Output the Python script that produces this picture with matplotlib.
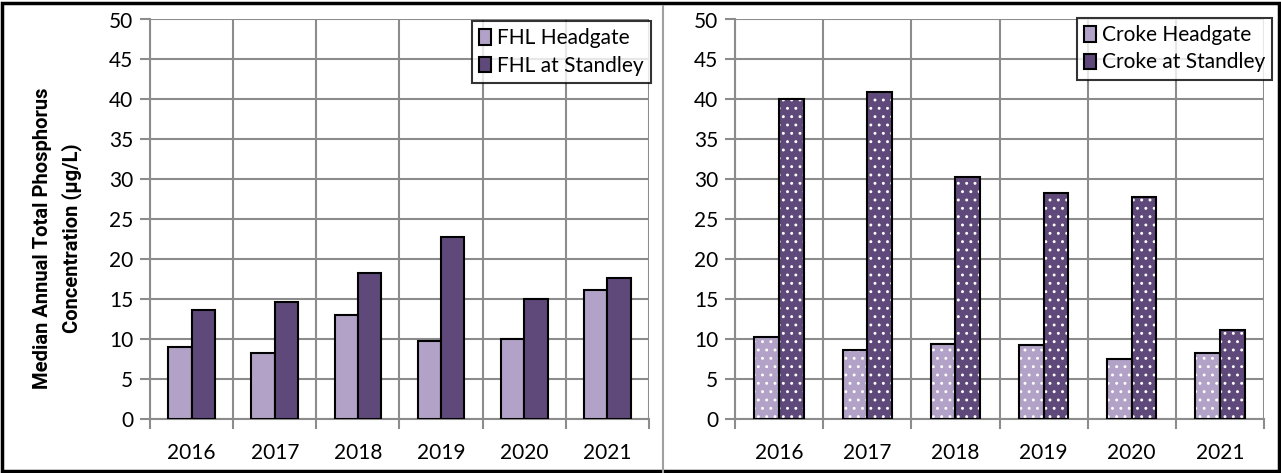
import numpy as np
import matplotlib.pyplot as plt
from matplotlib.patches import Rectangle
from matplotlib.lines import Line2D

years = ['2016', '2017', '2018', '2019', '2020', '2021']

fhl_headgate = [9.0, 8.3, 13.0, 9.8, 10.0, 16.1]
fhl_standley = [13.7, 14.6, 18.3, 22.8, 15.0, 17.6]

croke_headgate = [10.3, 8.6, 9.4, 9.2, 7.5, 8.3]
croke_standley = [40.1, 40.9, 30.3, 28.3, 27.8, 11.2]

light = '#b3a2c7'
dark = '#5f497a'
gridc = '#8c8c8c'

plt.rcParams['font.family'] = ['Lato', 'DejaVu Sans']
plt.rcParams['hatch.linewidth'] = 0.9

W, H = 1281, 473
fig = plt.figure(figsize=(W / 100, H / 100), dpi=100)


def box(x0, x1, y_top, y_bot):
    return [x0 / W, 1 - y_bot / H, (x1 - x0) / W, (y_bot - y_top) / H]


def setup(ax):
    x = np.arange(len(years))
    ax.set_xlim(-0.5, len(years) - 0.5)
    ax.set_ylim(0, 50)
    ax.set_yticks(range(0, 51, 5))
    ax.set_xticks(x)
    ax.set_xticklabels(years)
    ax.set_xticks(np.arange(-0.5, len(years)), minor=True)
    ax.tick_params(axis='x', which='major', length=0, pad=17, labelsize=15)
    ax.tick_params(axis='x', which='minor', length=7, width=1.5, color=gridc)
    ax.tick_params(axis='y', length=7, width=1.5, color=gridc, labelsize=15, pad=5)
    ax.grid(axis='y', which='major', color=gridc, lw=1.5)
    ax.grid(axis='x', which='minor', color=gridc, lw=1.5)
    ax.set_axisbelow(True)
    for s in ax.spines.values():
        s.set_visible(False)
    ax.spines['left'].set_visible(True)
    ax.spines['left'].set_color(gridc)
    ax.spines['left'].set_linewidth(1.5)
    ax.spines['bottom'].set_visible(True)
    ax.spines['bottom'].set_color(gridc)
    ax.spines['bottom'].set_linewidth(1.5)
    return x


def legend(ax, handles, labels, anchor):
    leg = ax.legend(handles, labels, loc='upper right', bbox_to_anchor=anchor,
                    fontsize=15, frameon=True, fancybox=False, edgecolor='black',
                    handlelength=0.55, handleheight=0.75, handletextpad=0.3,
                    borderpad=0.35, labelspacing=0.35, borderaxespad=0)
    leg.get_frame().set_linewidth(1.5)
    return leg


bw = 0.28

# left panel
ax1 = fig.add_axes(box(150, 649, 19.5, 419))
x = setup(ax1)
b1 = ax1.bar(x - bw / 2, fhl_headgate, bw, color=light, edgecolor='black', lw=1.5, zorder=3)
b2 = ax1.bar(x + bw / 2, fhl_standley, bw, color=dark, edgecolor='black', lw=1.5, zorder=3)
legend(ax1, [b1, b2], ['FHL Headgate', 'FHL at Standley'], (1.004, 0.996))

# right panel: dotted bars
ax2 = fig.add_axes(box(735, 1264, 19.5, 419))
x = setup(ax2)
for off, vals, col in [(-bw / 2, croke_headgate, light), (bw / 2, croke_standley, dark)]:
    ax2.bar(x + off, vals, bw, color=col, edgecolor='white', hatch='..', lw=0, zorder=3)
    ax2.bar(x + off, vals, bw, color='none', edgecolor='black', lw=1.5, zorder=4)
h1 = Rectangle((0, 0), 1, 1, facecolor=light, edgecolor='black', lw=1.5)
h2 = Rectangle((0, 0), 1, 1, facecolor=dark, edgecolor='black', lw=1.5)
legend(ax2, [h1, h2], ['Croke Headgate', 'Croke at Standley'], (1.016, 1.004))

# y label
fig.text(43 / W, 1 - 238 / H, 'Median Annual Total Phosphorus', rotation=90, ha='center',
         va='center', fontsize=14.5, fontweight='bold', family='Roboto')
fig.text(72 / W, 1 - 238 / H, 'Concentration (µg/L)', rotation=90, ha='center',
         va='center', fontsize=14.5, fontweight='bold', family='Roboto')

# frame and divider
fig.add_artist(Line2D([663 / W, 663 / W], [0, 1 - 6 / H], color='#a0a0a0', lw=1.5))
fig.add_artist(Rectangle((2 / W, 2 / H), 1 - 4 / W, 1 - 5 / H, fill=False,
                         edgecolor='black', lw=2.5, transform=fig.transFigure))

fig.savefig('out.png', dpi=100)
